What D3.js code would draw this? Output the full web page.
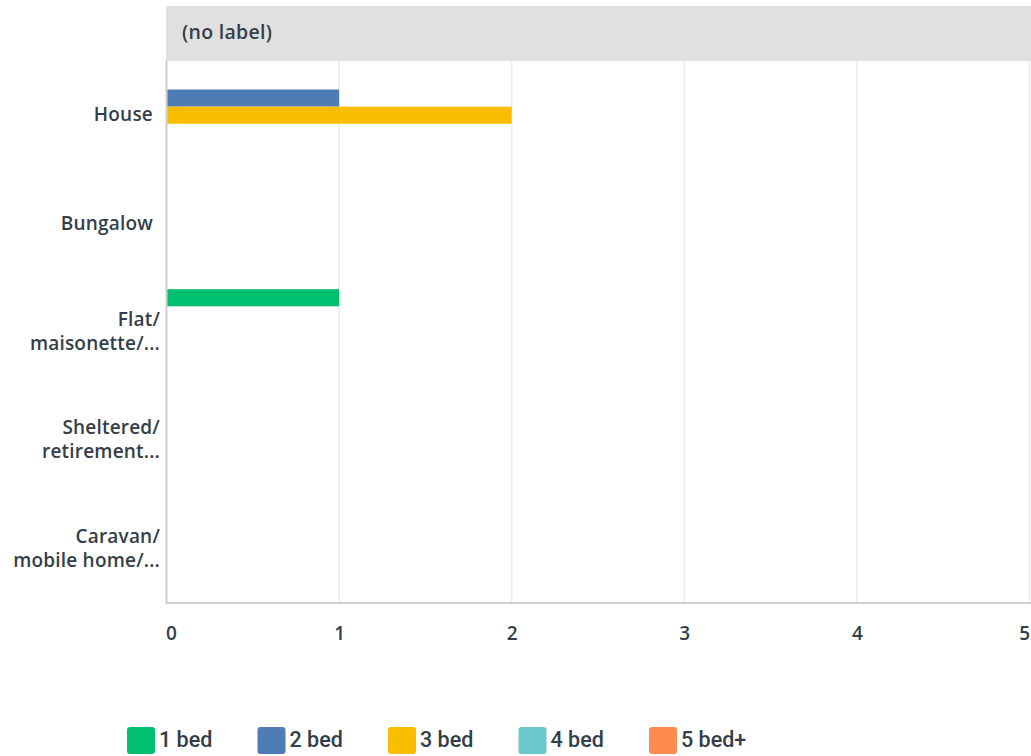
<!DOCTYPE html>
<html><head><meta charset="utf-8">
<script src="https://cdn.jsdelivr.net/npm/d3@7"></script>
<style>body{margin:0;background:#fff}svg{display:block;font-family:"Open Sans",sans-serif}</style>
</head><body><svg id="c" width="1031" height="756"></svg>
<script>
const categories = ["House","Bungalow","Flat/ maisonette/...","Sheltered/ retirement...","Caravan/ mobile home/..."];
const categoryLines = [["House"],["Bungalow"],["Flat/","maisonette/..."],["Sheltered/","retirement..."],["Caravan/","mobile home/..."]];
const series = ["1 bed","2 bed","3 bed","4 bed","5 bed+"];
const colors = ["#00bf6f","#507cb6","#f9be00","#6bc8cd","#ff8b4f"];
const values = [
  [0,0,1,0,0],   // 1 bed
  [1,0,0,0,0],   // 2 bed
  [2,0,0,0,0],   // 3 bed
  [0,0,0,0,0],   // 4 bed
  [0,0,0,0,0]    // 5 bed+
];
const xTicks = [0,1,2,3,4,5];
const headerLabel = "(no label)";

const svg = d3.select("#c");
const L = 166.5, R = 1029.5, T = 61, B = 603;
const x = d3.scaleLinear().domain([0,5]).range([L,R]);
const y = d3.scaleBand().domain(categories).range([T,B]).paddingInner(0.21).paddingOuter(0.105);
const ys = d3.scaleBand().domain(series).range([0,y.bandwidth()]);
const txt = "#333e48";

// header
svg.append("rect").attr("x",166).attr("y",6).attr("width",865).attr("height",55).attr("fill","#e0e0e0");
svg.append("text").attr("x",182).attr("y",39).attr("fill",txt).attr("font-size",19.5).attr("font-weight",600).attr("letter-spacing",0.3).text(headerLabel);

// grid
svg.append("g").selectAll("line").data(xTicks.slice(1)).join("line")
  .attr("x1",d=>x(d)).attr("x2",d=>x(d)).attr("y1",T).attr("y2",B)
  .attr("stroke","#ebebeb").attr("stroke-width",1.5);

// bars
series.forEach((s,si)=>{
  svg.append("g").selectAll("rect").data(categories.map((c,ci)=>({c,v:values[si][ci]})).filter(d=>d.v>0)).join("rect")
    .attr("x",x(0)).attr("y",d=>y(d.c)+ys(s)).attr("width",d=>x(d.v)-x(0)).attr("height",ys.bandwidth())
    .attr("fill",colors[si]);
});

// axes lines
svg.append("line").attr("x1",L).attr("x2",L).attr("y1",T).attr("y2",B+1).attr("stroke","#cfcfcf").attr("stroke-width",2);
svg.append("line").attr("x1",L).attr("x2",1031).attr("y1",B).attr("y2",B).attr("stroke","#cfcfcf").attr("stroke-width",2);

// x tick labels
const xa = svg.append("g").attr("transform",`translate(0,${B})`).call(d3.axisBottom(x).tickValues(xTicks).tickSize(0).tickFormat(d3.format("d")));
xa.select(".domain").remove();
xa.selectAll("text").attr("fill",txt).attr("font-size",19).attr("font-weight",600).attr("font-family","Open Sans, sans-serif")
  .attr("dy",0).attr("y",37).attr("text-anchor",(d)=>d===0?"start":(d===5?"end":"middle"))
  .attr("x",d=>d===0?-1:(d===5?0:0));

// y labels
categories.forEach((c,ci)=>{
  const lines = categoryLines[ci];
  const cy = y(c)+y.bandwidth()/2;
  const t = svg.append("text").attr("text-anchor","end").attr("fill",txt).attr("font-size",19).attr("font-weight",600).attr("letter-spacing",0.2);
  lines.forEach((ln,li)=>{
    t.append("tspan").attr("x",lines.length===1?153:160).attr("y",cy + 6 + (li-(lines.length-1)/2)*24).text(ln);
  });
});

// legend
const lg = svg.append("g");
series.forEach((s,i)=>{
  const lx = 127 + i*130.5;
  lg.append("rect").attr("x",lx).attr("y",727).attr("width",28).attr("height",27).attr("rx",3).attr("fill",colors[i]);
  lg.append("text").attr("x",lx+32).attr("y",747).attr("fill",txt).attr("font-size",21.5).attr("font-family","Roboto, sans-serif").attr("font-weight",500).text(s);
});
</script></body></html>
